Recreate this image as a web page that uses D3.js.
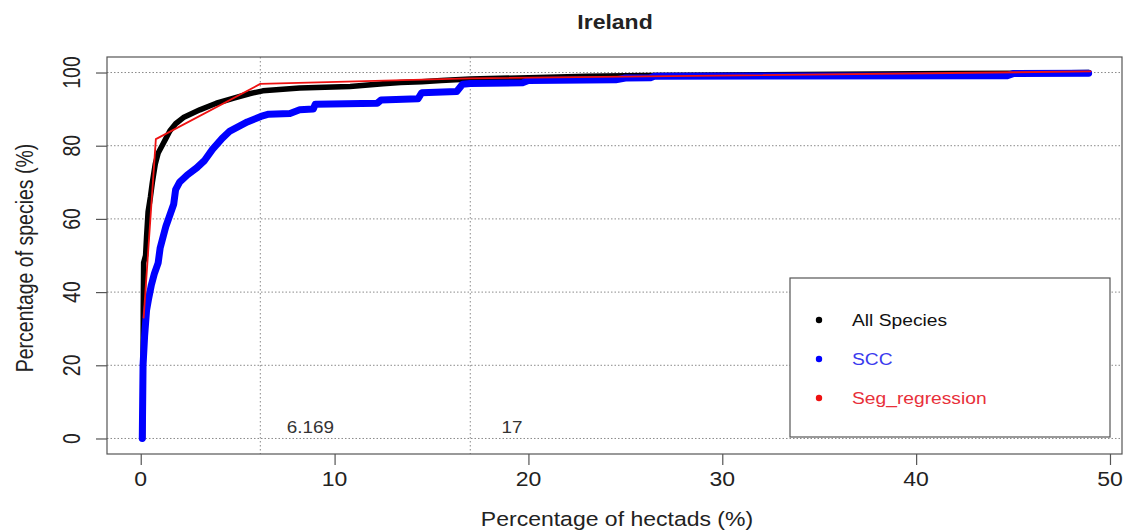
<!DOCTYPE html>
<html>
<head>
<meta charset="utf-8">
<script src="https://cdn.jsdelivr.net/npm/d3@7"></script>
<style>
  html, body { margin: 0; padding: 0; background: #fff; }
  svg { display: block; font-family: "Liberation Sans", Arial, Helvetica, sans-serif; }
</style>
</head>
<body>
<svg id="chart" width="1124" height="530"></svg>
<script>
// ---------------- data ----------------
const chartTitle = "Ireland";
const xTitle = "Percentage of hectads (%)";
const yTitle = "Percentage of species (%)";
const xTicks = [0, 10, 20, 30, 40, 50];
const yTicks = [0, 20, 40, 60, 80, 100];
const seriesNames = ["All Species", "SCC", "Seg_regression"];
const seriesColors = ["#000000", "#0000ff", "#ee1111"];
const legendTextColors = ["#111111", "#3a3aee", "#e8303a"];

// cumulative curve, all species: [x %, y %]
const allSpeciesX = [0.10, 0.12, 0.13, 0.15, 0.25, 0.30, 0.38, 0.50, 0.60, 0.75, 0.90, 1.10, 1.30, 1.50, 1.80, 2.20, 3.05, 3.90, 4.80, 5.60, 6.30, 8.20, 10.8, 12.5, 13.4, 14.5, 15.5, 17.0, 20.0, 23.0, 26.0, 30.0, 36.0, 42.0, 46.0, 48.9];
const allSpeciesY = [0, 20, 35, 48, 50, 55, 62, 66, 70, 75, 78, 80, 82, 84, 86, 87.7, 89.8, 91.6, 93.0, 94.2, 95.0, 95.8, 96.2, 96.9, 97.3, 97.5, 97.8, 98.2, 98.6, 99.0, 99.2, 99.3, 99.5, 99.7, 99.8, 100];

// cumulative curve, SCC species
const sccX = [0.08, 0.10, 0.12, 0.20, 0.30, 0.40, 0.55, 0.70, 0.90, 1.00, 1.15, 1.30, 1.50, 1.70, 1.80, 2.00, 2.40, 2.90, 3.30, 3.70, 4.20, 4.60, 5.50, 6.20, 6.60, 7.70, 8.20, 8.90, 9.00, 12.2, 12.4, 14.3, 14.5, 16.3, 16.6, 17.0, 19.7, 20.0, 24.5, 25.0, 26.3, 26.5, 44.7, 45.0, 48.9];
const sccY = [0, 10, 20, 28, 35, 38, 42, 45, 48, 52, 55, 58, 61, 64, 68, 70, 72, 74, 76, 79, 82, 84, 86.5, 88.0, 88.6, 88.8, 89.8, 90.0, 91.3, 91.6, 92.5, 92.8, 94.5, 94.8, 96.8, 97.0, 97.2, 97.8, 98.0, 98.5, 98.6, 99.0, 99.1, 99.7, 99.8];

// segmented regression fit
const segX = [0.15, 0.78, 6.169, 17, 49];
const segY = [33, 81.8, 96.9, 98.4, 100.3];

// breakpoints and their labels
const breakpoints = [6.169, 17];
const breakLabels = ["6.169", "17"];
const breakLabelX = [8.75, 19.15];

// ---------------- layout ----------------
const W = 1124, H = 530;
const plot = { left: 107, right: 1122, top: 57, bottom: 454 };
const SX = 1.18; // horizontal stretch of glyphs in the reference

const svg = d3.select("#chart");
const x = d3.scaleLinear().domain([-1.74, 50.62]).range([plot.left, plot.right]);
const y = d3.scaleLinear().domain([-4.24, 104.24]).range([plot.bottom, plot.top]);

function stext(g, str, px, py, opts) {
  const o = Object.assign({ size: 19.5, anchor: "middle", rotate: 0, weight: "normal", fill: "#222" }, opts || {});
  return g.append("text")
    .attr("transform", `translate(${px},${py}) scale(${SX},1) rotate(${o.rotate})`)
    .attr("text-anchor", o.anchor)
    .attr("font-size", o.size)
    .attr("font-weight", o.weight)
    .attr("fill", o.fill)
    .text(str);
}

// grid lines (dotted)
const grid = svg.append("g");
grid.selectAll("line.h").data(yTicks).enter().append("line")
  .attr("x1", plot.left).attr("x2", plot.right)
  .attr("y1", d => y(d)).attr("y2", d => y(d))
  .attr("stroke", "#8a8a8a").attr("stroke-width", 1).attr("stroke-dasharray", "1.5,2");
grid.selectAll("line.v").data(breakpoints).enter().append("line")
  .attr("x1", d => x(d)).attr("x2", d => x(d))
  .attr("y1", plot.top).attr("y2", plot.bottom)
  .attr("stroke", "#8a8a8a").attr("stroke-width", 1).attr("stroke-dasharray", "1.5,2.5");

// breakpoint labels
breakLabels.forEach((t, i) => stext(svg, t, x(breakLabelX[i]), y(0) - 5, { size: 16, fill: "#333" }));

// curves
const line = d3.line().x(d => x(d[0])).y(d => y(d[1]));
const series = [
  { pts: allSpeciesX.map((v, i) => [v, allSpeciesY[i]]), color: seriesColors[0], w: 5.5 },
  { pts: sccX.map((v, i) => [v, sccY[i]]), color: seriesColors[1], w: 7 },
  { pts: segX.map((v, i) => [v, segY[i]]), color: seriesColors[2], w: 1.8 }
];
svg.append("g").selectAll("path").data(series).enter().append("path")
  .attr("d", d => line(d.pts))
  .attr("fill", "none")
  .attr("stroke", d => d.color)
  .attr("stroke-width", d => d.w)
  .attr("stroke-linejoin", "round")
  .attr("stroke-linecap", "round");

// legend
const lg = svg.append("g");
lg.append("rect").attr("x", 790).attr("y", 278).attr("width", 320).attr("height", 159)
  .attr("fill", "#fff").attr("stroke", "#555").attr("stroke-width", 1.2);
seriesNames.forEach((n, i) => {
  const cy = 320 + i * 39;
  lg.append("circle").attr("cx", 819).attr("cy", cy).attr("r", 3.2).attr("fill", seriesColors[i]);
  stext(lg, n, 852, cy + 6, { size: 16.3, anchor: "start", fill: legendTextColors[i] });
});

// box
svg.append("rect").attr("x", plot.left).attr("y", plot.top)
  .attr("width", plot.right - plot.left).attr("height", plot.bottom - plot.top)
  .attr("fill", "none").attr("stroke", "#555").attr("stroke-width", 1.2);

// axes
const xAxis = svg.append("g").attr("transform", `translate(0,${plot.bottom})`)
  .call(d3.axisBottom(x).tickValues(xTicks).tickSize(11).tickFormat(""));
const yAxis = svg.append("g").attr("transform", `translate(${plot.left},0)`)
  .call(d3.axisLeft(y).tickValues(yTicks).tickSize(11).tickFormat(""));
[xAxis, yAxis].forEach(a => {
  a.select(".domain").remove();
  a.selectAll(".tick line").attr("stroke", "#555").attr("stroke-width", 1.2);
});
xTicks.forEach(t => stext(svg, String(t), x(t), 486, { fill: "#222" }));
yTicks.forEach(t => stext(svg, String(t), 80, y(t), { rotate: -90, fill: "#222" }));

// titles
stext(svg, chartTitle, 615, 29, { weight: "bold", fill: "#222" });
stext(svg, xTitle, 617, 526, { fill: "#222" });
stext(svg, yTitle, 33, 258, { rotate: -90, fill: "#222" });
</script>
</body>
</html>
